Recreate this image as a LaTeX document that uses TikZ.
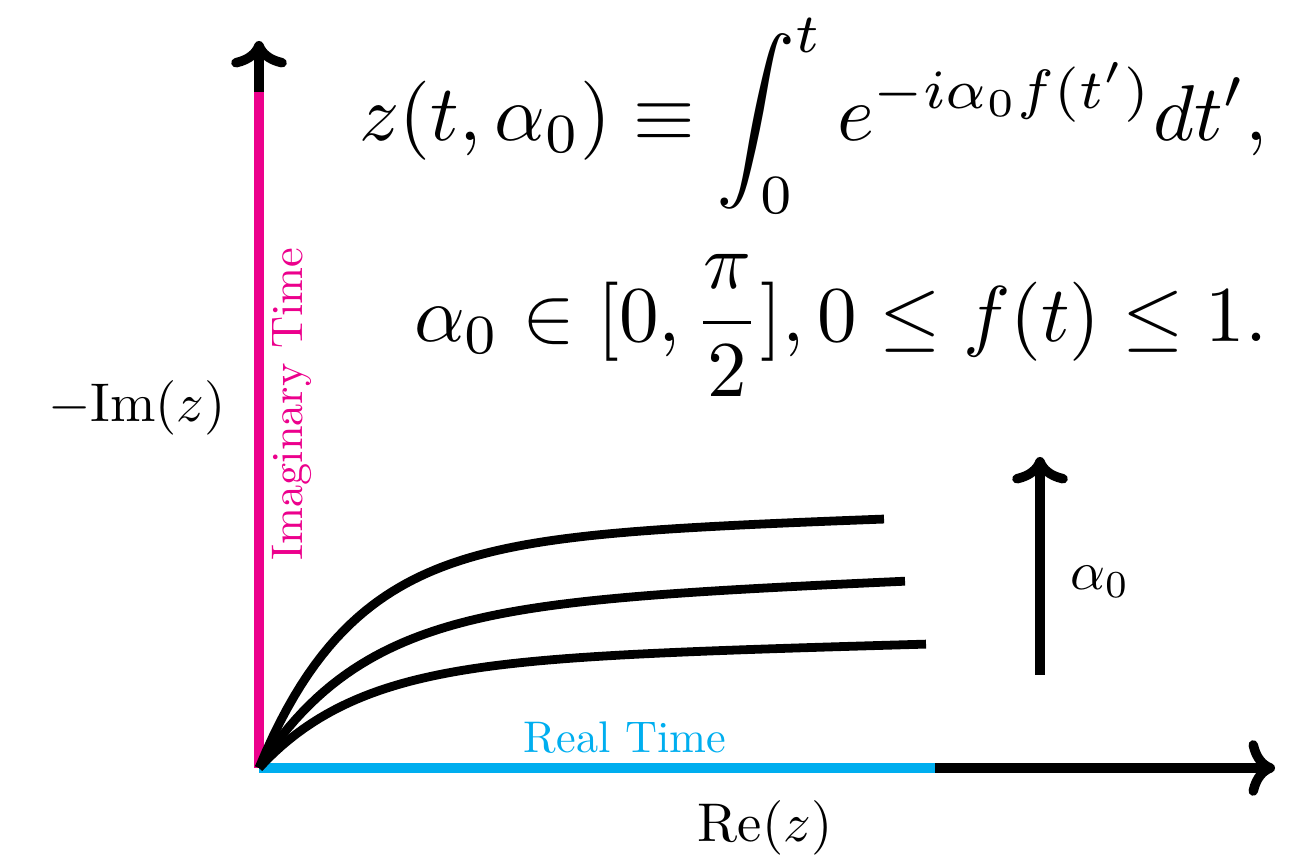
\documentclass[tikz,border=0pt]{standalone}
\usepackage{amsmath}
\usetikzlibrary{arrows.meta,positioning}
\definecolor{imagpink}{RGB}{236,0,140}
\definecolor{realblue}{RGB}{0,174,239}

\begin{document}
\begin{tikzpicture}[x=0.01cm, y=0.01cm,
  axis/.style={line width=2.7pt, ->},
  contour/.style={line width=2.5pt},
  lbl/.style={inner sep=0pt, scale=1.26},
  axlbl/.style={inner sep=0pt, scale=1.55},
  eqn/.style={inner sep=0pt, scale=2.25, anchor=base east}]
  \useasboundingbox (-259,-90) rectangle (1032,768);
  % axes
  \coordinate (O) at (0,0);
  \coordinate (xend) at (1016,0);
  \coordinate (yend) at (0,727);
  \coordinate (xreal) at (676,0);
  \coordinate (yimag) at (0,676);
  \draw[axis] (O) -- (xend);
  \draw[axis] (O) -- (yend);
  \draw[line width=2.7pt, realblue] (O) -- (xreal);
  \draw[line width=2.7pt, imagpink] (O) -- (yimag);
  \node[lbl, realblue, anchor=base] (realtime) at (366,15) {Real Time};
  \node[lbl, imagpink, anchor=base, rotate=90] (imagtime) at (43,364) {Imaginary Time};
  \node[axlbl] (relabel) at (506,-60) {$\mathrm{Re}(z)$};
  \node[axlbl] (imlabel) at (-122,360) {$-\mathrm{Im}(z)$};
  % contours for three values of alpha_0
  \draw[contour] plot[domain=0:625, samples=90] (\x, {228*(1-exp(-\x/95)) + 0.034*\x});
  \draw[contour] plot[domain=0:646, samples=90] (\x, {160*(1-exp(-\x/105)) + 0.042*\x});
  \draw[contour] plot[domain=0:667, samples=90] (\x, {106*(1-exp(-\x/100)) + 0.027*\x});
  % alpha_0 grows upwards
  \coordinate (abot) at (781,93);
  \coordinate (atop) at (781,311);
  \draw[axis] (abot) -- (atop);
  \node[axlbl] (alpha) at (841,186) {$\alpha_0$};
  % definition
  \node[eqn] (zdef) at (1010,627) {$\displaystyle z(t,\alpha_0)\equiv\int_0^t e^{-i\alpha_0 f(t')}dt',$};
  \node[eqn] (range) at (1010,426) {$\displaystyle \alpha_0\in[0,\frac{\pi}{2}],0\le f(t)\le 1.$};
\end{tikzpicture}
\end{document}
